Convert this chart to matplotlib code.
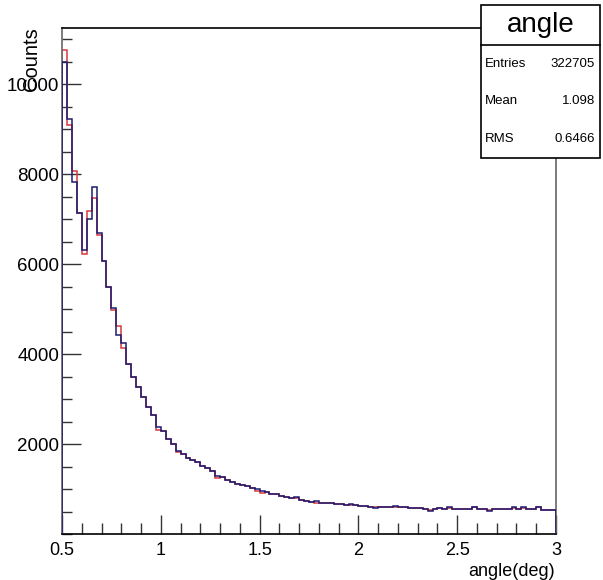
import numpy as np
import matplotlib
matplotlib.use("Agg")
import matplotlib.pyplot as plt
from matplotlib.patches import Rectangle
from matplotlib.ticker import MultipleLocator, FixedLocator

plt.rcParams['font.family'] = ['Liberation Sans', 'DejaVu Sans']

# histogram "angle": 100 bins from 0.5 to 3 deg
x_min, x_max, n_bins = 0.5, 3.0, 100

counts_blue = [10500, 9220, 7820, 7130, 6320, 7000, 7710, 6690, 6070, 5500,
               5030, 4430, 4240, 3780, 3500, 3260, 3040, 2820, 2640, 2370,
               2300, 2110, 2000, 1850, 1780, 1700, 1650, 1590, 1520, 1470,
               1400, 1300, 1260, 1210, 1160, 1120, 1090, 1060, 1020, 990,
               960, 930, 900, 880, 850, 830, 800, 820, 760, 740,
               720, 730, 700, 690, 680, 670, 660, 650, 660, 640,
               630, 620, 610, 570, 600, 610, 590, 630, 600, 590,
               580, 570, 570, 560, 520, 560, 570, 560, 600, 560,
               560, 550, 560, 610, 560, 550, 510, 550, 560, 550,
               550, 600, 550, 600, 550, 550, 610, 540, 540, 540]

counts_red = [10750, 9100, 8070, 7130, 6230, 7190, 7480, 6640, 6070, 5500,
              4990, 4630, 4130, 3780, 3500, 3260, 3040, 2820, 2640, 2320,
              2300, 2110, 2000, 1820, 1780, 1700, 1650, 1590, 1520, 1470,
              1400, 1240, 1260, 1210, 1160, 1120, 1090, 1060, 1020, 960,
              920, 930, 900, 880, 850, 830, 800, 790, 760, 740,
              720, 700, 700, 690, 680, 670, 660, 650, 640, 640,
              630, 620, 610, 590, 600, 590, 590, 600, 600, 590,
              580, 570, 570, 560, 540, 560, 570, 560, 580, 560,
              560, 550, 560, 590, 560, 550, 530, 550, 560, 550,
              550, 580, 550, 580, 550, 550, 590, 540, 540, 540]

stats_title = "angle"
stats_rows = [("Entries", "322705"), ("Mean", "1.098"), ("RMS", "0.6466")]

edges = np.linspace(x_min, x_max, n_bins + 1)

fig = plt.figure(figsize=(6.03, 5.80), dpi=100)
ax = fig.add_axes([62/603, 1-534/580, (556-62)/603, (534-28)/580])

ax.stairs(counts_red, edges, color="#d83a3a", linewidth=1.1, zorder=2)
ax.stairs(counts_blue, edges, color="#1c1c70", linewidth=1.1, zorder=3)

ax.set_xlim(x_min, x_max)
ax.set_ylim(0, 11250)

ax.xaxis.set_major_locator(MultipleLocator(0.5))
ax.xaxis.set_minor_locator(MultipleLocator(0.1))
ax.yaxis.set_major_locator(FixedLocator([2000, 4000, 6000, 8000, 10000]))
ax.yaxis.set_minor_locator(MultipleLocator(500))
ax.xaxis.set_major_formatter(plt.FuncFormatter(lambda v, p: f"{v:g}"))
ax.tick_params(axis="both", which="both", direction="in", top=False, right=False,
               color="#333333")
ax.tick_params(axis="x", which="major", length=14, width=1, pad=6, labelsize=13)
ax.tick_params(axis="x", which="minor", length=8, width=1)
ax.tick_params(axis="y", which="major", length=14, width=1, pad=2, labelsize=13.5)
ax.tick_params(axis="y", which="minor", length=7, width=1)

for side in ["top", "bottom"]:
    ax.spines[side].set_color("black")
    ax.spines[side].set_linewidth(1.2)
for side in ["left", "right"]:
    ax.spines[side].set_color("#666666")
    ax.spines[side].set_linewidth(1.2)

fig.text(31/603, 1-27/580, "Counts", rotation=90, ha="center", va="top", fontsize=14.5)
fig.text(555/603, 1-571/580, "angle(deg)", ha="right", va="center", fontsize=13)

# stats box
bx0, bx1, by0, by1 = 481, 600, 5, 158
fig.patches.append(Rectangle((bx0/603, 1-by1/580), (bx1-bx0)/603, (by1-by0)/580,
                             transform=fig.transFigure, facecolor="white",
                             edgecolor="black", linewidth=1.2, zorder=10))
fig.lines.append(plt.Line2D([bx0/603, bx1/603], [1-45/580, 1-45/580],
                            transform=fig.transFigure, color="black",
                            linewidth=1.2, zorder=11))
fig.text((bx0+bx1)/2/603, 1-25/580, stats_title, ha="center", va="center",
         fontsize=20, zorder=12)
row_y = [64, 101.5, 139]
for (name, val), yy in zip(stats_rows, row_y):
    fig.text(485/603, 1-yy/580, name, ha="left", va="center", fontsize=9.5, zorder=12)
    fig.text(595/603, 1-yy/580, val, ha="right", va="center", fontsize=9.5, zorder=12)

fig.savefig("out.png", dpi=100)
